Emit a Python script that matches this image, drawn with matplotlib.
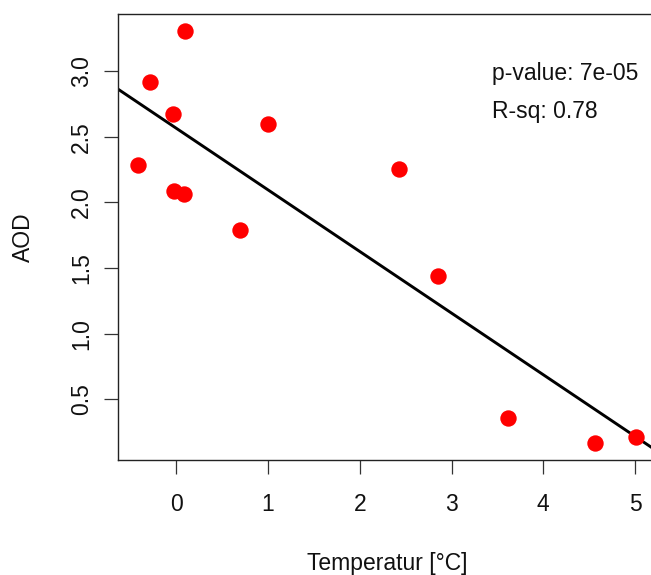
import matplotlib
matplotlib.use("Agg")
import matplotlib.pyplot as plt
import numpy as np

# temperature anomaly vs AOD
temp = np.array([0.098, -0.283, -0.036, -0.417, -0.022, 0.080, 0.690,
                 0.999, 2.429, 2.857, 3.613, 4.564, 5.011])
aod = np.array([3.308, 2.918, 2.677, 2.282, 2.086, 2.061, 1.792,
                2.601, 2.257, 1.437, 0.361, 0.163, 0.214])

xticks = [0, 1, 2, 3, 4, 5]
yticks = [0.5, 1.0, 1.5, 2.0, 2.5, 3.0]
stats_text = ["p-value: 7e-05", "R-sq: 0.78"]

plt.rcParams["font.family"] = ["Liberation Sans", "DejaVu Sans"]
plt.rcParams["font.size"] = 16.5

fig = plt.figure(figsize=(6.51, 5.75), dpi=100)
# axes runs slightly past the right edge of the figure (cropped like the original)
ax = fig.add_axes([118 / 651, 115 / 575, 538 / 651, 445.7 / 575])

# R-style 4% padding around the data range
def padded(v):
    r = v.max() - v.min()
    return v.min() - 0.04 * r, v.max() + 0.04 * r

ax.set_xlim(*padded(temp))
ax.set_ylim(*padded(aod))

ax.plot(temp, aod, "o", color="#ff0000", markersize=11.8, markeredgewidth=0, zorder=3)

slope, intercept = np.polyfit(temp, aod, 1)
ax.axline((0, intercept), slope=slope, color="black", lw=2.1, zorder=2)

ax.text(3.44, 2.985, stats_text[0], ha="left", va="center", color="#111111")
ax.text(3.44, 2.695, stats_text[1], ha="left", va="center", color="#111111")

ax.set_xticks(xticks)
ax.set_xticklabels([str(v) for v in xticks])
ax.set_yticks(yticks)
ax.set_yticklabels([f"{v:.1f}" for v in yticks], rotation=90, va="center")

ax.tick_params(axis="both", direction="out", length=10, width=0.9, colors="#333333",
               labelcolor="#111111")
ax.tick_params(axis="x", pad=14)
ax.tick_params(axis="y", pad=8)

for side in ["left", "bottom", "top"]:
    ax.spines[side].set_linewidth(1.0)
    ax.spines[side].set_color("#222222")
ax.spines["right"].set_visible(False)

ax.set_xlabel("Temperatur [°C]", va="baseline", color="#111111")
ax.xaxis.set_label_coords(0.5, -0.2468)
ax.set_ylabel("AOD", va="center", color="#111111")
ax.yaxis.set_label_coords(-0.1766, 0.5)

fig.savefig("out.png", dpi=100)
